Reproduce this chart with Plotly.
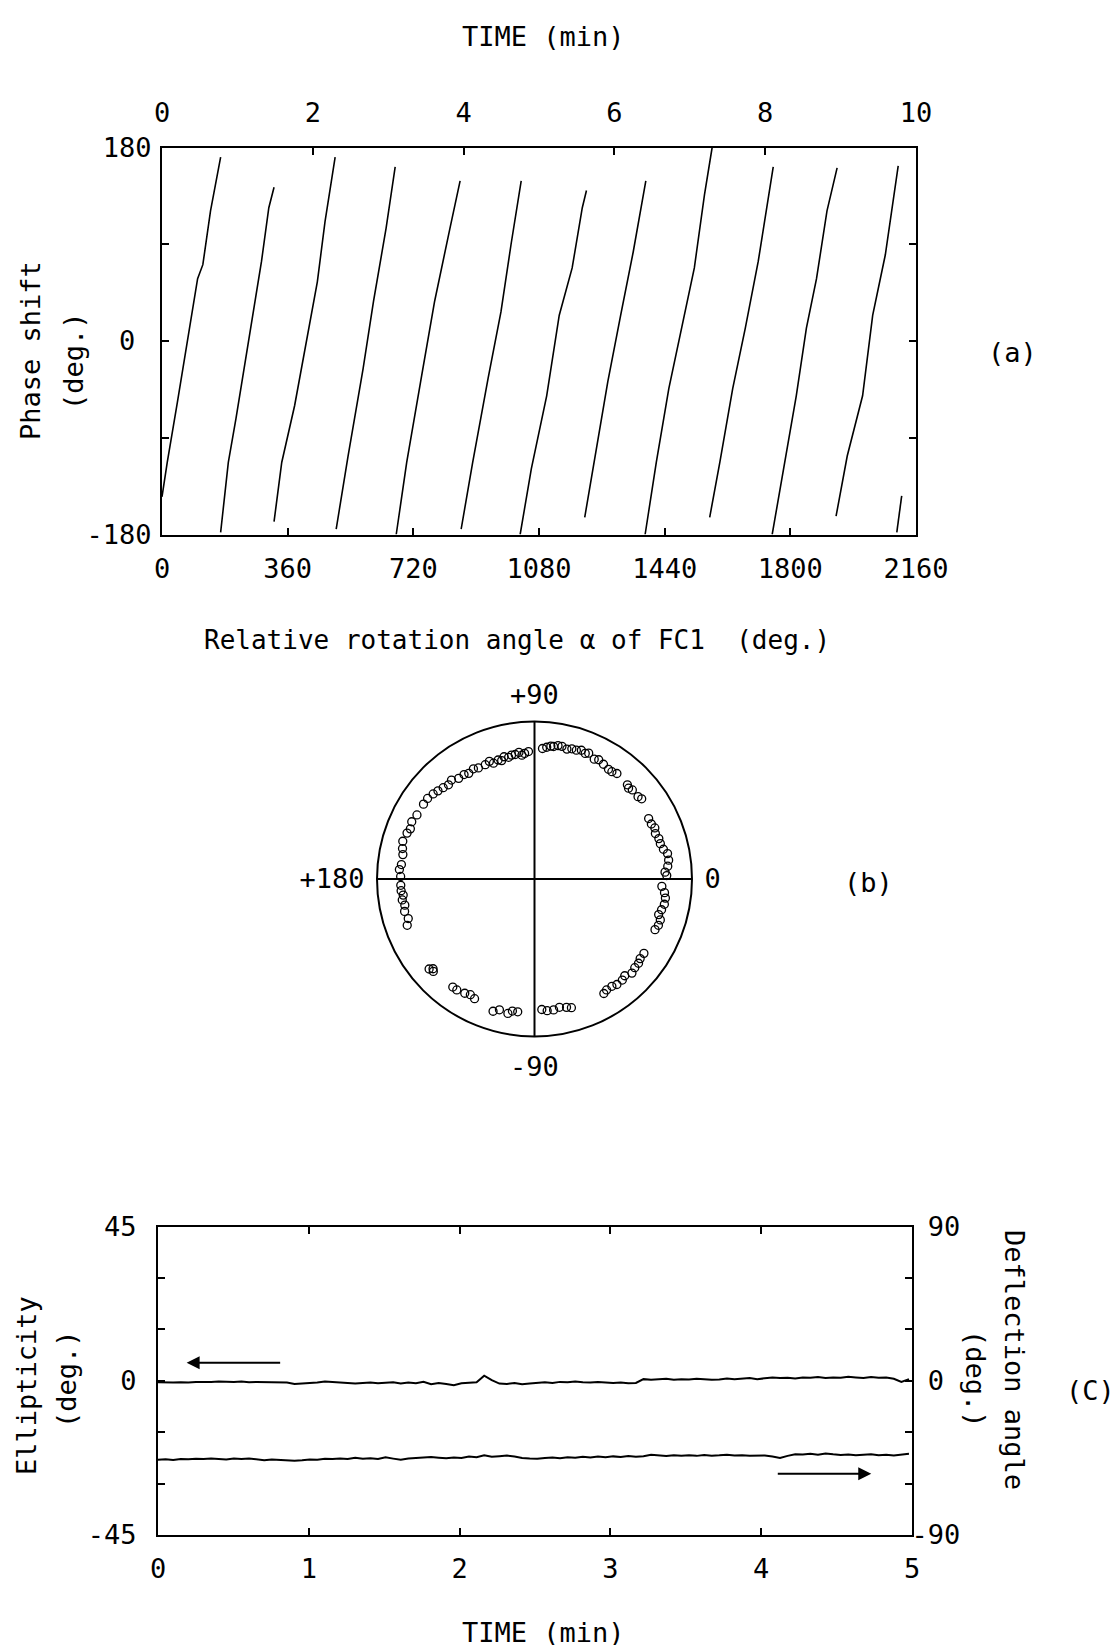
import plotly.graph_objects as go

W, H = 1118, 1645
FONT = "DejaVu Sans Mono"
FS = 27

# ---------------- Panel (a) data: phase shift vs rotation angle ----------------
seg_alpha = [
    [0, 15, 44, 73, 102, 117, 139, 168],
    [168, 190, 212, 248, 285, 306, 321],
    [321, 343, 380, 416, 445, 467, 496],
    [499, 533, 576, 606, 642, 668],
    [671, 701, 744, 781, 825, 854],
    [857, 890, 934, 971, 1000, 1029],
    [1026, 1058, 1102, 1138, 1175, 1204, 1216],
    [1211, 1241, 1277, 1314, 1350, 1386],
    [1384, 1416, 1452, 1489, 1525, 1554, 1576],
    [1569, 1598, 1635, 1671, 1708, 1751],
    [1748, 1781, 1817, 1846, 1875, 1905, 1934],
    [1931, 1963, 2007, 2036, 2072, 2109],
    [2105, 2119],
]
seg_phase = [
    [-145, -113, -57, -1, 58, 71, 121, 171],
    [-178, -113, -72, 2, 74, 124, 143],
    [-168, -113, -60, 5, 55, 111, 171],
    [-175, -107, -26, 37, 105, 162],
    [-180, -113, -32, 37, 105, 149],
    [-175, -113, -35, 27, 90, 149],
    [-180, -119, -51, 24, 68, 124, 140],
    [-164, -107, -38, 24, 83, 149],
    [-180, -113, -44, 12, 68, 136, 180],
    [-164, -113, -44, 12, 74, 162],
    [-180, -119, -51, 12, 58, 121, 161],
    [-163, -107, -51, 24, 80, 163],
    [-178, -144],
]
alpha_ticks = [0, 360, 720, 1080, 1440, 1800, 2160]
time_ticks_a = [0, 2, 4, 6, 8, 10]

# ---------------- Panel (b) data: polar scatter ----------------
sop_theta = [92.7, 95.8, 98.8, 102, 105.5, 109.5, 113.3, 116.8, 121.9, 127, 132.4, 137.6,
             143, 151.4, 160.2, 164, 169.5, 173.8, 178.9,
             182.7, 187, 191.4, 197.4, 200, 220.5, 222.4, 232.9, 238.6, 243.4, 252.6, 258.8, 262.8,
             273.2, 278.3, 284, 301.2, 305.8, 311, 316, 321, 325.8, 337.2, 342, 346.4, 351.7, 356.7,
             3, 8, 10.8, 15.7, 20.6, 25.2, 27.9, 36.8, 42.3, 45.4, 54.2, 61.7, 66.7, 70, 74, 78.3, 81.8, 84.7,
             94.5, 97, 100.5, 104, 107, 111, 119, 124, 130, 135, 140, 146, 155, 158, 167, 176,
             185, 189, 194, 221.5, 235, 241, 255, 260.5,
             275.5, 281, 286, 303, 308, 313, 318.5, 323, 339.5, 344, 349, 354,
             1.5, 5.5, 13, 18, 23, 38.5, 44, 52, 56, 59, 63.5, 68, 72, 76, 80, 83, 86.5]
sop_r = [0.81, 0.79, 0.80, 0.79, 0.78, 0.78, 0.79, 0.79, 0.79, 0.80, 0.81, 0.83,
         0.85, 0.85, 0.86, 0.87, 0.85, 0.85, 0.85,
         0.85, 0.84, 0.84, 0.84, 0.86, 0.88, 0.87, 0.86, 0.85, 0.85, 0.88, 0.87, 0.85,
         0.83, 0.84, 0.84, 0.85, 0.84, 0.85, 0.86, 0.85, 0.84, 0.83, 0.84, 0.83, 0.84, 0.81,
         0.83, 0.86, 0.86, 0.83, 0.82, 0.82, 0.82, 0.85, 0.84, 0.84, 0.84, 0.86, 0.87, 0.87, 0.86, 0.86, 0.85, 0.84,
         0.80, 0.81, 0.80, 0.80, 0.79, 0.80, 0.80, 0.80, 0.82, 0.82, 0.84, 0.85, 0.86, 0.85, 0.86, 0.86,
         0.85, 0.85, 0.85, 0.86, 0.86, 0.84, 0.86, 0.85,
         0.84, 0.83, 0.85, 0.84, 0.85, 0.84, 0.85, 0.84, 0.84, 0.82, 0.84, 0.83,
         0.84, 0.85, 0.84, 0.83, 0.83, 0.84, 0.83, 0.85, 0.84, 0.85, 0.85, 0.86, 0.86, 0.85, 0.86, 0.85, 0.83]

# ---------------- Panel (c) data: ellipticity / deflection vs time ----------------
n_c = 100
time_c = [4.98 * i / (n_c - 1) for i in range(n_c)]
ellipticity = [
    -0.4, -0.5, -0.5, -0.4, -0.5, -0.3, -0.4, -0.3, -0.2, -0.3, -0.3, -0.2, -0.4, -0.3, -0.4, -0.5, -0.6, -0.5,
    -0.9, -0.8, -0.6, -0.5, -0.2, -0.3, -0.5, -0.7, -0.8, -0.6, -0.5, -0.7,
    -0.6, -0.4, -0.8, -0.5, -0.7, -0.3, -1.0, -0.6, -0.9, -1.3, -0.7, -0.6, -0.4,
    1.5, 0.2,
    -0.8, -0.9, -0.6, -1.0, -0.8, -0.5, -0.4, -0.6, -0.3, -0.4, -0.2, -0.4, -0.5, -0.3, -0.5, -0.6, -0.5, -0.7, -0.6,
    0.5, 0.3, 0.4, 0.6, 0.3, 0.5, 0.4, 0.6, 0.5, 0.3, 0.4, 0.7, 0.5, 0.6, 0.8, 0.5, 0.7, 1.0,
    0.8, 0.9, 0.7, 1.0, 0.9, 1.1, 0.8, 1.0, 0.9, 1.2, 1.0, 0.8, 1.1, 0.9, 1.0, 0.6, -0.3, 0.5,
]
deflection = [
    -46.0, -45.8, -46.2, -45.6, -45.8, -45.5, -45.7, -45.4, -45.6, -45.9,
    -45.4, -45.6, -45.3, -45.8, -46.3, -45.9, -46.2, -46.5, -46.7, -46.4,
    -45.9, -46.0, -45.5, -45.7, -45.3, -45.6, -44.9, -45.5, -45.2, -45.6,
    -44.6, -45.4, -46.1, -45.3, -45.0, -44.4, -44.5, -44.9, -45.2, -44.7,
    -45.1, -44.2, -44.6, -43.4, -44.3, -44.0, -43.6, -44.2, -45.0, -45.3,
    -45.5, -45.1, -44.8, -45.2, -44.6, -44.9, -44.3, -44.7, -44.2, -44.6,
    -44.1, -44.5, -43.9, -44.3, -44.0, -43.1, -43.6, -43.9, -43.4, -43.8,
    -43.5, -43.8, -43.3, -43.7, -43.5, -43.2, -43.6, -43.4, -43.8, -43.5,
    -43.6, -44.2, -45.0, -43.8, -42.8, -43.0, -42.6, -43.1, -42.4, -42.9,
    -43.3, -43.0, -43.5, -43.1, -42.8, -43.4, -43.2, -43.6, -43.0, -42.5,
]
ell_arrow = dict(x_from=0.82, x_to=0.19, y=5.3)
dfl_arrow = dict(x_from=4.10, x_to=4.73, y=-54.2)


def px_x(p):
    return p / W


def px_y(p):
    return 1 - p / H


fig = go.Figure()

for a, p in zip(seg_alpha, seg_phase):
    fig.add_trace(go.Scatter(x=a, y=p, mode="lines", xaxis="x", yaxis="y",
                             line=dict(color="black", width=1.6), showlegend=False,
                             hoverinfo="skip"))

fig.add_trace(go.Scatterpolar(theta=sop_theta, r=sop_r, mode="markers", subplot="polar",
                              marker=dict(symbol="circle-open", size=8, color="black",
                                          line=dict(width=1.3, color="black")),
                              showlegend=False))

fig.add_trace(go.Scatter(x=time_c, y=ellipticity, mode="lines", xaxis="x3", yaxis="y3",
                         line=dict(color="black", width=2), showlegend=False))
fig.add_trace(go.Scatter(x=time_c, y=deflection, mode="lines", xaxis="x3", yaxis="y4",
                         line=dict(color="black", width=2), showlegend=False))

tickfont = dict(family=FONT, size=FS, color="black")
common = dict(showgrid=False, zeroline=False, ticks="inside", ticklen=7, tickwidth=1.5,
              tickcolor="black", linecolor="black", linewidth=2, tickfont=tickfont,
              automargin=False)

nb = "\u00a0"
fig.update_layout(
    width=W, height=H, autosize=False,
    margin=dict(l=0, r=0, t=0, b=0),
    paper_bgcolor="white", plot_bgcolor="white",
    font=dict(family=FONT, size=FS, color="black"),
    xaxis=dict(domain=[px_x(154), px_x(908)], anchor="y", range=[0, 2160],
               tickvals=alpha_ticks, ticktext=[str(v) for v in alpha_ticks],
               showline=True, mirror=True, ticklabelstandoff=9, **common),
    xaxis2=dict(overlaying="x", side="top", anchor="y", range=[0, 10],
                tickvals=time_ticks_a, ticktext=[str(v) for v in time_ticks_a],
                showline=False, ticklabelstandoff=19, **common),
    yaxis=dict(domain=[px_y(526.5), px_y(139.5)], anchor="x", range=[-180, 180],
               tickvals=[-180, -90, 0, 90, 180], ticktext=["-180", "", "0" + nb, "", "180"],
               showline=True, mirror="ticks", ticklabelstandoff=3, **common),
    xaxis3=dict(domain=[px_x(150), px_x(904)], anchor="y3", range=[0, 5],
                tickvals=[0, 1, 2, 3, 4, 5], ticktext=["0", "1", "2", "3", "4", "5"],
                showline=True, mirror="ticks", ticklabelstandoff=9, **common),
    yaxis3=dict(domain=[px_y(1527), px_y(1218.7)], anchor="x3", range=[-45, 45],
                tickvals=[-45, -30, -15, 0, 15, 30, 45], ticktext=["-45", "", "", "0", "", "", "45"],
                showline=True, ticklabelstandoff=14, **common),
    yaxis4=dict(overlaying="y3", side="right", anchor="x3", range=[-90, 90],
                tickvals=[-90, -60, -30, 0, 30, 60, 90],
                ticktext=["-90", "", "", nb + "0", "", "", nb + "90"],
                showline=True, ticklabelstandoff=-8, **common),
    polar=dict(
        domain=dict(x=[px_x(369), px_x(684)], y=[px_y(1032), px_y(710)]),
        bgcolor="white",
        radialaxis=dict(visible=False, range=[0, 1], showgrid=False),
        angularaxis=dict(rotation=0, direction="counterclockwise",
                         tickvals=[0, 90, 180, 270], ticktext=["0", "+90", "+180", "-90"],
                         showline=True, linecolor="black", linewidth=2,
                         showgrid=True, gridcolor="black", gridwidth=1.5,
                         ticks="outside", ticklen=6, tickcolor="rgba(0,0,0,0)",
                         tickfont=tickfont),
    ),
)

# dummy trace so xaxis2 is rendered
fig.add_trace(go.Scatter(x=[0, 10], y=[None, None], xaxis="x2", yaxis="y", mode="lines",
                         showlegend=False, hoverinfo="skip"))

ann = []


def text(t, x, y, angle=0, size=FS):
    ann.append(dict(text=t, x=px_x(x), y=px_y(y), xref="paper", yref="paper",
                    xanchor="center", yanchor="middle", showarrow=False, textangle=angle,
                    font=dict(family=FONT, size=size, color="black")))


text("TIME (min)", 535, 28)
text("Relative rotation angle α of FC1" + nb + " (deg.)", 509, 632, size=26)
text("Phase shift", 23, 343, -90)
text("(deg.)", 65, 353, -90)
text("(a)", 1005, 344)
text("(b)", 860, 874)
text("Ellipticity", 18, 1378, -90)
text("(deg.)", 58, 1371, -90)
text("Deflection angle", 1007, 1352, 90)
text("(deg.)", 968, 1371, 90)
text("(C)", 1082, 1382)
text("TIME (min)", 535, 1624)

ann.append(dict(x=ell_arrow["x_to"], y=ell_arrow["y"], ax=ell_arrow["x_from"], ay=ell_arrow["y"],
                xref="x3", yref="y3", axref="x3", ayref="y3", showarrow=True,
                arrowhead=2, arrowsize=1.3, arrowwidth=2, arrowcolor="black", text=""))
ann.append(dict(x=dfl_arrow["x_to"], y=dfl_arrow["y"], ax=dfl_arrow["x_from"], ay=dfl_arrow["y"],
                xref="x3", yref="y4", axref="x3", ayref="y4", showarrow=True,
                arrowhead=2, arrowsize=1.3, arrowwidth=2, arrowcolor="black", text=""))

fig.update_layout(annotations=ann)

fig.write_html("out.html")
